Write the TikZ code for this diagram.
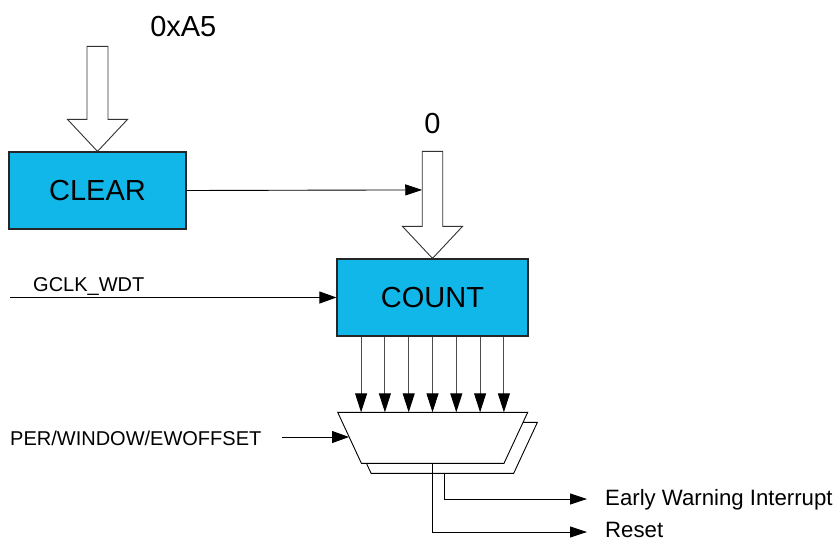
\documentclass[tikz,border=0pt]{standalone}
\usepackage{fontspec}
\setmainfont{Liberation Sans}
\usetikzlibrary{arrows.meta,calc}
\definecolor{boxblue}{RGB}{18,183,234}
\tikzset{
  block/.style={draw=black!85, line width=1.2pt, fill=boxblue, minimum height=77pt, inner sep=0pt, font=\fontsize{29}{34}\selectfont},
  hollow/.style={draw=black!80, line width=0.9pt, fill=white, line join=miter},
  sig/.style={draw=black, line width=0.9pt, -{Triangle[length=17pt,width=12pt]}},
  busarrow/.style={draw=black!70, line width=1pt, -{Triangle[length=19pt,width=12pt,color=black]}},
  muxshape/.style={draw=black, line width=0.9pt, fill=white, line join=miter},
  biglbl/.style={font=\fontsize{29}{34}\selectfont, inner sep=0pt},
  smalllbl/.style={font=\fontsize{20}{24}\selectfont, inner sep=0pt},
  outlbl/.style={font=\fontsize{22.2}{26}\selectfont, inner sep=0pt},
}
\begin{document}
\begin{tikzpicture}[x=1pt,y=-1pt]
\useasboundingbox (0,0) rectangle (840,542);

% blocks
\node[block, minimum width=177pt] (clear) at (97.5,190.5) {CLEAR};
\node[block, minimum width=191pt] (count) at (432.5,297.5) {COUNT};

% hollow arrows
\draw[hollow] (clear.north) -- ++(-30,-32) -- ++(19.5,0) -- ++(0,-73) -- ++(21,0) -- ++(0,73) -- ++(19.5,0) -- cycle;
\draw[hollow] (count.north) -- ++(-30,-32) -- ++(19.75,0) -- ++(0,-75) -- ++(20.5,0) -- ++(0,75) -- ++(19.75,0) -- cycle;

\node[biglbl] (a5) at (183.3,27) {0xA5};
\node[biglbl] (zero) at (432.5,124) {0};

% CLEAR -> count input arrow
\coordinate (zin) at ($(count.north)+(-10.25,-68.5)$);
\draw[sig, -{Triangle[length=17pt,width=11pt]}] (clear.east) -- (zin);

% clock
\coordinate (gclk) at (10,297.5);
\node[smalllbl, anchor=base west] (gclklbl) at (33,291) {GCLK\_WDT};
\draw[sig] (gclk) -- (count.west);

% mux
\coordinate (fTL) at (337.7,412.3);
\coordinate (fTR) at (527.7,412.3);
\coordinate (fBR) at (504,463.3);
\coordinate (fBL) at (361.4,463.3);
\draw[muxshape] ([shift={(9.7,10)}]fTL) -- ([shift={(9.7,10)}]fTR) -- ([shift={(9.7,10)}]fBR) -- ([shift={(9.7,10)}]fBL) -- cycle;
\draw[muxshape] (fTL) -- (fTR) -- (fBR) -- (fBL) -- cycle;

% bus arrows
\foreach \i in {-3,...,3}{
  \draw[busarrow] ([xshift=\i*23.8pt]count.south) -- ([xshift=\i*23.8pt]count.south |- fTL);
}

% select input
\coordinate (muxL) at (349,437);
\coordinate (perin) at (281.7,437);
\node[smalllbl, anchor=base west] (perlbl) at (10,445) {PER/WINDOW/EWOFFSET};
\draw[sig] (perin) -- (muxL);

% outputs
\coordinate (muxout) at (432.7,463.3);
\coordinate (ewout) at (444,473.3);
\coordinate (rst) at (587,532);
\coordinate (ew) at (587,499);
\draw[sig, -{Triangle[length=17pt,width=11pt]}] (muxout) |- (rst);
\draw[sig, -{Triangle[length=17pt,width=11pt]}] (ewout) |- (ew);
\node[outlbl, anchor=base west] (ewlbl) at (605,505.5) {Early Warning Interrupt};
\node[outlbl, anchor=base west] (rstlbl) at (605,537.5) {Reset};
\end{tikzpicture}
\end{document}
